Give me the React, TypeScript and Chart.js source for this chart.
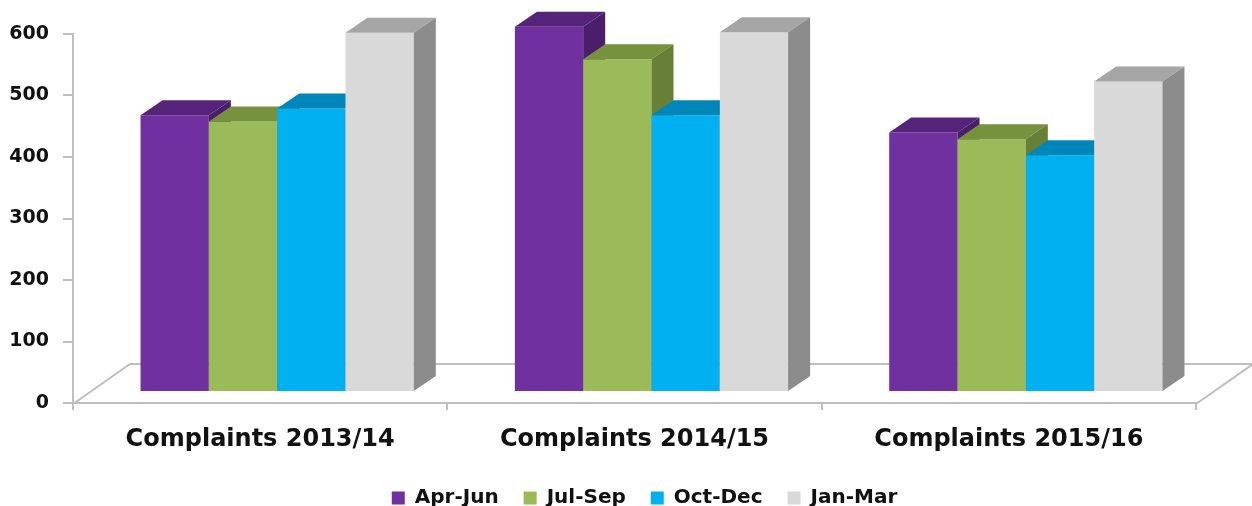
import React, { useEffect, useRef } from "react";
import { Chart, registerables } from "chart.js";

Chart.register(...registerables);

const categories = ["Complaints 2013/14", "Complaints 2014/15", "Complaints 2015/16"];
const seriesNames = ["Apr-Jun", "Jul-Sep", "Oct-Dec", "Jan-Mar"];
const aprJun = [450, 594, 422];
const julSep = [440, 541, 411];
const octDec = [461, 450, 385];
const janMar = [584, 585, 505];
const yMin = 0;
const yMax = 600;
const yStep = 100;

const frontColors = ["#7030A0", "#9BBB59", "#00B0F0", "#D9D9D9"];
const topColors = ["#55247A", "#76923C", "#0086B8", "#A6A6A6"];
const sideColors = ["#4A1E6B", "#687F37", "#0079A6", "#8C8C8C"];

const SX = 17; // front-face shift (depth position)
const SY = 11;
const DX = 22; // bar depth
const DY = 15;
const FLOOR_DX = 57;
const FLOOR_DY = 40;
const AXIS_GRAY = "#BFBFBF";
const LEGEND_SHIFT_X = 10;
const LEGEND_SHIFT_Y = 5;

const bar3d = {
  id: "bar3d",
  afterLayout(chart: any) {
    const lg = chart.legend;
    if (lg) {
      lg.left += LEGEND_SHIFT_X;
      lg.right += LEGEND_SHIFT_X;
      lg.top += LEGEND_SHIFT_Y;
      lg.bottom += LEGEND_SHIFT_Y;
    }
  },
  beforeDatasetsDraw(chart: any) {
    const { ctx, chartArea } = chart;
    const { left, right, bottom } = chartArea;
    ctx.save();
    ctx.strokeStyle = AXIS_GRAY;
    ctx.lineWidth = 2;
    ctx.beginPath();
    ctx.moveTo(left, bottom + 1);
    ctx.lineTo(left + FLOOR_DX, bottom - FLOOR_DY + 1);
    ctx.lineTo(right + FLOOR_DX, bottom - FLOOR_DY + 1);
    ctx.lineTo(right, bottom + 1);
    ctx.stroke();

    const n = chart.data.labels.length;
    const nd = chart.data.datasets.length;
    for (let i = 0; i < n; i++) {
      for (let d = 0; d < nd; d++) {
        const meta = chart.getDatasetMeta(d);
        const el = meta.data[i];
        if (!el) continue;
        const { x, y, base, width } = el.getProps(["x", "y", "base", "width"], true);
        const l = x - width / 2 + SX;
        const r = x + width / 2 + SX;
        const t = y - SY;
        const b = base - SY;
        ctx.fillStyle = frontColors[d];
        ctx.fillRect(l, t, r - l, b - t);
        ctx.fillStyle = topColors[d];
        ctx.beginPath();
        ctx.moveTo(l, t);
        ctx.lineTo(l + DX, t - DY);
        ctx.lineTo(r + DX, t - DY);
        ctx.lineTo(r, t);
        ctx.closePath();
        ctx.fill();
        ctx.fillStyle = sideColors[d];
        ctx.beginPath();
        ctx.moveTo(r, t);
        ctx.lineTo(r + DX, t - DY);
        ctx.lineTo(r + DX, b - DY);
        ctx.lineTo(r, b);
        ctx.closePath();
        ctx.fill();
      }
    }
    ctx.restore();
    return false;
  },
};

export default function App() {
  const ref = useRef<HTMLCanvasElement | null>(null);
  useEffect(() => {
    if (!ref.current) return;
    Chart.defaults.font.family = "'DejaVu Sans', sans-serif";
    const series = [aprJun, julSep, octDec, janMar];
    const chart = new Chart(ref.current, {
      type: "bar",
      data: {
        labels: categories,
        datasets: series.map((vals, k) => ({
          label: seriesNames[k],
          data: vals,
          backgroundColor: frontColors[k],
          borderWidth: 0,
          categoryPercentage: 0.73,
          barPercentage: 1.0,
        })),
      },
      options: {
        responsive: false,
        animation: false,
        devicePixelRatio: 1,
        layout: { padding: { top: 34, right: 56, left: 0, bottom: 0 } },
        plugins: {
          tooltip: { enabled: false },
          legend: {
            position: "bottom",
            fullSize: false,
            labels: {
              boxWidth: 13,
              boxHeight: 13,
              padding: 25,
              color: "#111111",
              font: { size: 20, weight: "bold" },
            },
          },
        },
        scales: {
          x: {
            grid: {
              display: true,
              drawOnChartArea: false,
              drawTicks: true,
              tickLength: 7,
              color: AXIS_GRAY,
              lineWidth: 2,
            },
            border: { display: true, color: AXIS_GRAY, width: 2 },
            ticks: {
              color: "#111111",
              font: { size: 24, weight: "bold" },
              padding: 15,
              maxRotation: 0,
              autoSkip: false,
            },
            afterFit: (s: any) => {
              s.height = 55;
            },
          },
          y: {
            min: yMin,
            max: yMax,
            grid: {
              display: true,
              drawOnChartArea: false,
              drawTicks: true,
              tickLength: 10,
              color: AXIS_GRAY,
              lineWidth: 2,
            },
            border: { display: true, color: AXIS_GRAY, width: 2 },
            ticks: {
              stepSize: yStep,
              color: "#111111",
              font: { size: 19, weight: "bold" },
              padding: 14,
            },
            afterFit: (s: any) => {
              s.width = 73;
            },
          },
        },
      },
      plugins: [bar3d],
    });
    return () => chart.destroy();
  }, []);
  return (
    <div
      style={{
        position: "fixed",
        left: 0,
        top: 0,
        width: 1252,
        height: 506,
        overflow: "hidden",
        background: "#ffffff",
      }}
    >
      <canvas ref={ref} width={1252} height={513} style={{ display: "block" }} />
    </div>
  );
}
